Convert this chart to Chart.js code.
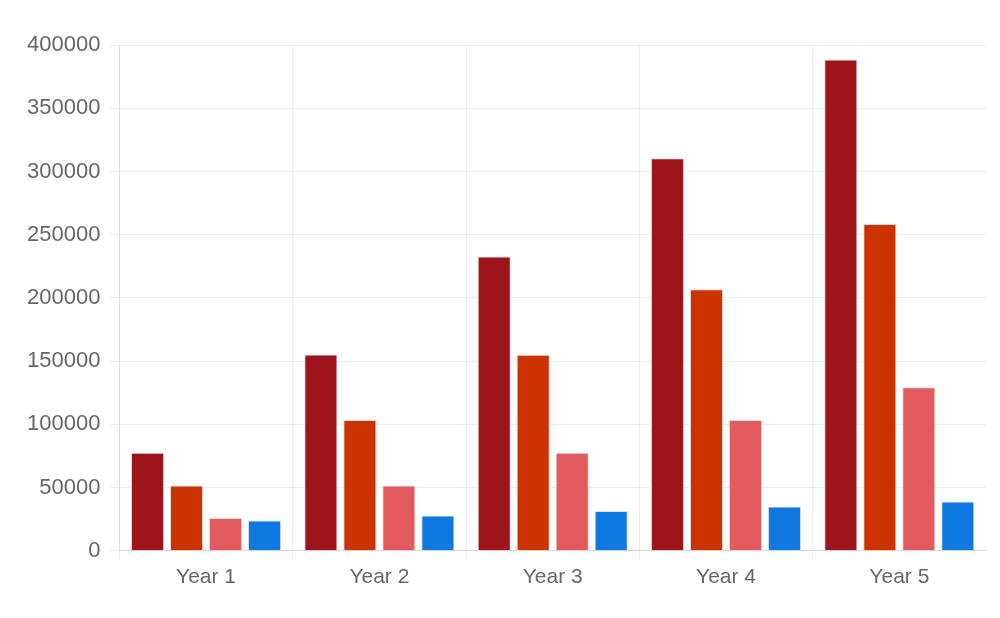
<!DOCTYPE html>
<html>
<head>
<meta charset="utf-8">
<script src="https://cdn.jsdelivr.net/npm/chart.js@4/dist/chart.umd.min.js"></script>
<style>
  html, body { margin: 0; padding: 0; background: #fff; }
  #wrap { width: 1000px; height: 618px; }
</style>
</head>
<body>
<div id="wrap"><canvas id="c" width="1000" height="618"></canvas></div>
<script>
const categories = ["Year 1", "Year 2", "Year 3", "Year 4", "Year 5"];
const seriesA = [77600, 155200, 232800, 310400, 388500];
const seriesB = [51700, 103400, 155100, 206800, 258500];
const seriesC = [25900, 51700, 77600, 103400, 129300];
const seriesD = [24000, 28000, 31500, 35000, 39000];
const colors = ["#9e141b", "#cc3300", "#e35a5e", "#0f77e0"];
const yTicks = [0, 50000, 100000, 150000, 200000, 250000, 300000, 350000, 400000];

const gridCol = "rgba(0,0,0,0.07)";
const mk = (data, i) => ({
  label: "S" + (i + 1),
  data: data,
  backgroundColor: colors[i],
  borderColor: "#dedede",
  borderWidth: 1,
  categoryPercentage: 0.9,
  barPercentage: 0.85
});

new Chart(document.getElementById("c"), {
  type: "bar",
  data: {
    labels: categories,
    datasets: [mk(seriesA, 0), mk(seriesB, 1), mk(seriesC, 2), mk(seriesD, 3)]
  },
  options: {
    responsive: false,
    animation: false,
    devicePixelRatio: 1,
    layout: { padding: { left: 18, right: 14, top: 45, bottom: 22 } },
    plugins: { legend: { display: false }, tooltip: { enabled: false } },
    scales: {
      x: {
        grid: {
          color: (ctx) => (ctx.index === undefined || ctx.index >= categories.length) ? "rgba(0,0,0,0)" : gridCol,
          tickLength: 8
        },
        border: { color: "rgba(0,0,0,0.09)" },
        ticks: { color: "#666", font: { family: "Liberation Sans", size: 21 }, padding: 6 }
      },
      y: {
        min: 0,
        max: 400000,
        afterBuildTicks: (axis) => { axis.ticks = yTicks.map(v => ({ value: v })); },
        grid: { color: gridCol, tickLength: 10 },
        border: { color: gridCol },
        ticks: {
          color: "#666",
          font: { family: "Liberation Sans", size: 22 },
          padding: 9,
          callback: (v) => String(v)
        }
      }
    }
  }
});
</script>
</body>
</html>
